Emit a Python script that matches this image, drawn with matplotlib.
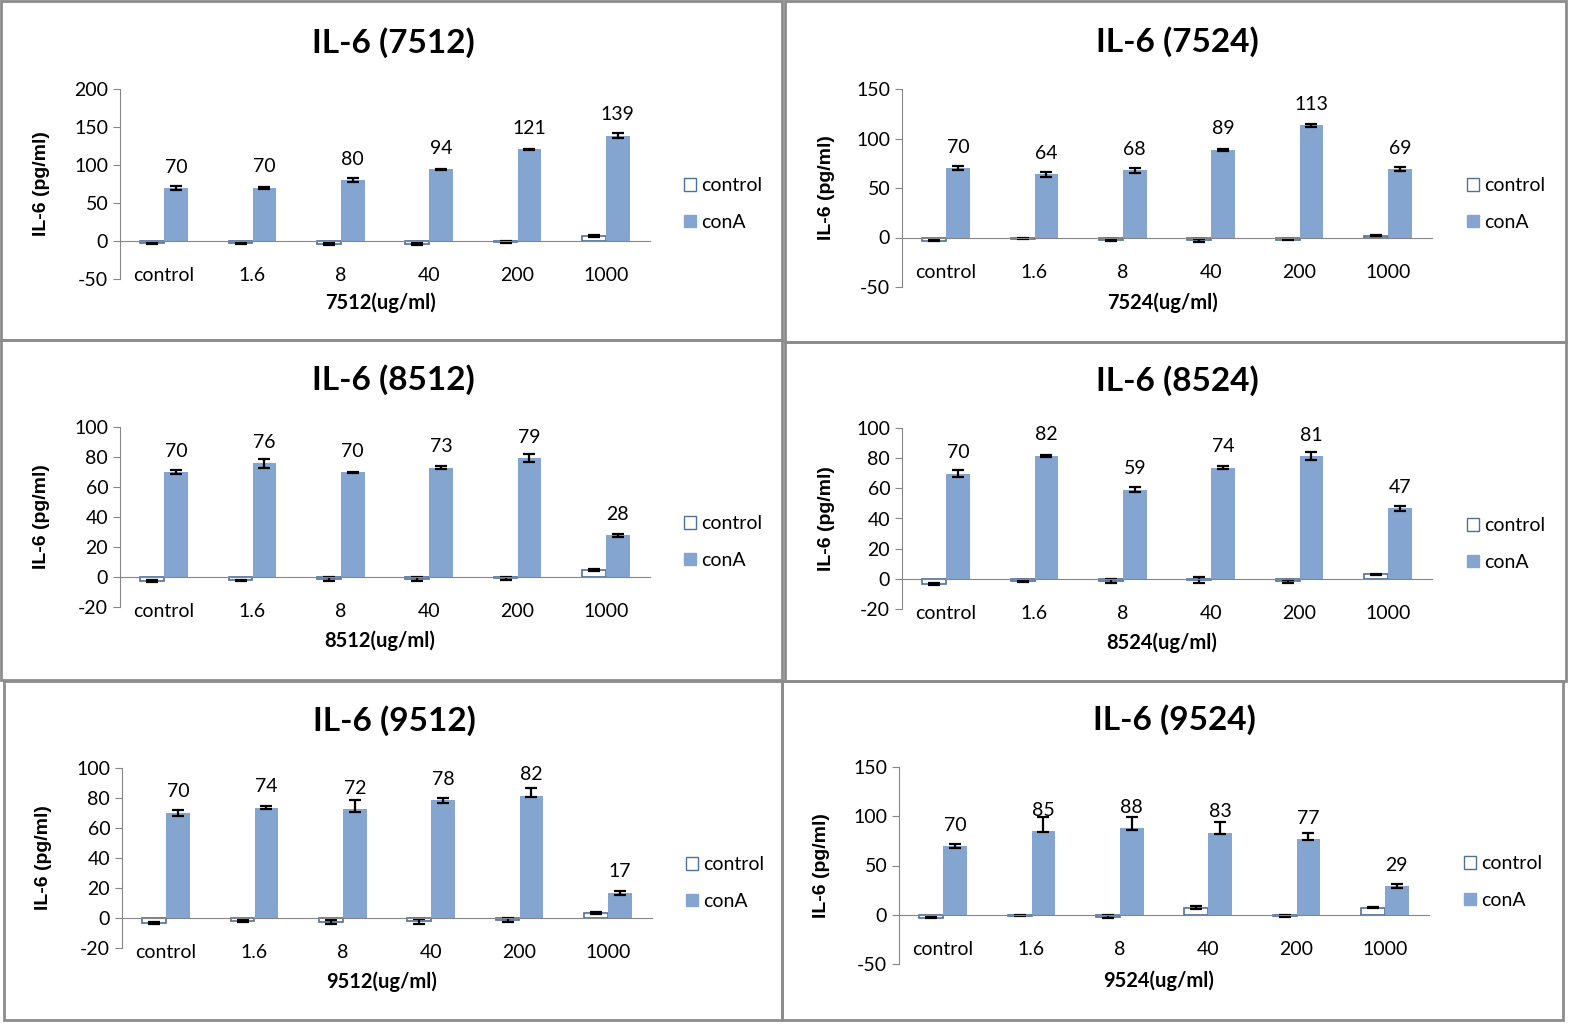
import matplotlib
matplotlib.use('Agg')
import matplotlib.pyplot as plt
from matplotlib.patches import Patch, Rectangle

plt.rcParams['axes.unicode_minus'] = False

W, H = 1573, 1026

categories = ['control', '1.6', '8', '40', '200', '1000']
samples = ['7512', '7524', '8512', '8524', '9512', '9524']

# conA means, error up / down, control means, control error
conA_7512 = [69.6, 70.2, 80.0, 94.3, 120.6, 138.7]
conA_up_7512 = [2.6, 1.3, 2.6, 1.0, 1.0, 3.0]
conA_dn_7512 = [2.6, 1.3, 2.6, 1.0, 1.0, 3.0]
ctrl_7512 = [-3.0, -3.0, -3.5, -4.3, -1.7, 6.5]
ctrl_err_7512 = [0.5, 0.3, 1.5, 1.5, 1.5, 1.0]

conA_7524 = [69.8, 64.0, 68.0, 88.8, 113.3, 68.8]
conA_up_7524 = [2.0, 2.5, 2.5, 1.0, 1.5, 2.0]
conA_dn_7524 = [2.0, 2.5, 2.5, 1.0, 1.5, 2.0]
ctrl_7524 = [-3.2, -1.5, -2.5, -3.0, -2.5, 2.0]
ctrl_err_7524 = [0.5, 0.5, 1.0, 1.5, 0.5, 0.5]

conA_8512 = [70.0, 76.0, 69.8, 72.8, 79.2, 27.8]
conA_up_8512 = [1.5, 3.0, 0.5, 1.0, 2.5, 1.2]
conA_dn_8512 = [1.5, 3.0, 0.5, 1.0, 2.5, 1.2]
ctrl_8512 = [-2.8, -2.2, -1.4, -1.4, -0.8, 4.6]
ctrl_err_8512 = [0.5, 0.5, 1.5, 1.5, 1.0, 0.5]

conA_8524 = [69.8, 81.6, 59.2, 73.6, 81.4, 46.8]
conA_up_8524 = [2.5, 0.5, 1.5, 1.0, 2.5, 1.5]
conA_dn_8524 = [2.5, 0.5, 1.5, 1.0, 2.5, 1.5]
ctrl_8524 = [-3.5, -1.5, -1.5, -1.0, -1.5, 3.0]
ctrl_err_8524 = [0.5, 0.5, 1.5, 2.0, 1.0, 0.5]

conA_9512 = [70.2, 73.6, 72.4, 78.4, 81.6, 16.9]
conA_up_9512 = [2.0, 0.8, 6.3, 1.5, 4.8, 1.3]
conA_dn_9512 = [2.0, 0.8, 1.4, 1.5, 0.7, 1.3]
ctrl_9512 = [-3.3, -2.0, -2.7, -2.2, -1.1, 3.3]
ctrl_err_9512 = [0.5, 0.5, 1.5, 1.6, 1.4, 0.4]

conA_9524 = [69.6, 84.6, 87.6, 83.4, 76.8, 29.2]
conA_up_9524 = [2.0, 14.4, 11.4, 10.7, 5.7, 1.8]
conA_dn_9524 = [2.0, 0.4, 1.4, 1.4, 0.7, 1.8]
ctrl_9524 = [-3.2, -1.2, -1.8, 7.0, -1.2, 7.0]
ctrl_err_9524 = [0.5, 0.5, 1.7, 1.5, 1.0, 0.5]

conA_all = [conA_7512, conA_7524, conA_8512, conA_8524, conA_9512, conA_9524]
conA_up_all = [conA_up_7512, conA_up_7524, conA_up_8512, conA_up_8524, conA_up_9512, conA_up_9524]
conA_dn_all = [conA_dn_7512, conA_dn_7524, conA_dn_8512, conA_dn_8524, conA_dn_9512, conA_dn_9524]
ctrl_all = [ctrl_7512, ctrl_7524, ctrl_8512, ctrl_8524, ctrl_9512, ctrl_9524]
ctrl_err_all = [ctrl_err_7512, ctrl_err_7524, ctrl_err_8512, ctrl_err_8524, ctrl_err_9512, ctrl_err_9524]

y_ranges = [(-50, 200, 50), (-50, 150, 50), (-20, 100, 20), (-20, 100, 20), (-20, 100, 20), (-50, 150, 50)]

# layout in pixels: frame box, axes box (left, top, right, bottom), title y, xlabel y, ylabel x, legend x/y
frames = [(1, 1, 782, 340), (785, 1, 1566, 342), (1, 340, 782, 680),
          (785, 342, 1566, 681), (4, 681, 782, 1020), (782, 681, 1563, 1020)]
axboxes = [(120, 89, 650, 279), (902, 89, 1432, 287), (120, 427, 650, 607),
           (902, 428, 1432, 609), (122, 768, 652, 948), (899, 767, 1429, 964)]
titles_y = [43, 42, 380, 381, 721, 720]
xlab_y = [303, 303, 641, 643, 982, 981]
ylab_x = [42, 826, 42, 826, 43, 822]
legend_xy = [(684, 204), (1467, 204), (684, 542), (1467, 544), (686, 883), (1464, 882)]

BLUE = '#84A5D0'
EDGE = '#4F7099'
AXC = '#868686'
FONT = ['Lato', 'DejaVu Sans']
FS = 14

fig = plt.figure(figsize=(W / 100, H / 100), dpi=100)

for i, name in enumerate(samples):
    fl, ft, fr, fb = frames[i]
    fig.patches.append(Rectangle((fl / W, 1 - fb / H), (fr - fl) / W, (fb - ft) / H,
                                 transform=fig.transFigure, fill=False,
                                 edgecolor='#8C8C8C', linewidth=2))
    l, t, r, b = axboxes[i]
    ax = fig.add_axes([l / W, 1 - b / H, (r - l) / W, (b - t) / H])
    x = list(range(len(categories)))
    bw = 0.27
    xc = [v - bw / 2 for v in x]
    xa = [v + bw / 2 for v in x]
    ax.bar(xc, ctrl_all[i], bw, color='white', edgecolor=EDGE, linewidth=1.2,
           yerr=ctrl_err_all[i], capsize=4, error_kw=dict(elinewidth=1.6, capthick=1.6, ecolor='black'))
    ax.bar(xa, conA_all[i], bw, color=BLUE,
           yerr=[conA_dn_all[i], conA_up_all[i]], capsize=4,
           error_kw=dict(elinewidth=1.6, capthick=1.6, ecolor='black'))
    for xx, v in zip(xa, conA_all[i]):
        ax.annotate(str(int(round(v))), (xx, v), xytext=(0, 15), textcoords='offset points',
                    ha='center', va='center', fontsize=FS, family=FONT)
    lo, hi, step = y_ranges[i]
    ax.set_ylim(lo, hi)
    ax.set_yticks(list(range(lo, hi + 1, step)))
    ax.set_xlim(-0.5, len(categories) - 0.5)
    ax.set_xticks(x)
    ax.set_xticklabels(categories)
    for s in ['top', 'right']:
        ax.spines[s].set_visible(False)
    ax.spines['bottom'].set_position(('data', 0))
    ax.spines['bottom'].set_color(AXC)
    ax.spines['left'].set_color(AXC)
    ax.tick_params(axis='x', length=0, pad=19, labelsize=FS)
    ax.tick_params(axis='y', length=5, color=AXC, labelsize=FS)
    for lab in ax.get_xticklabels() + ax.get_yticklabels():
        lab.set_family(FONT)
    cx = (fl + fr) / 2
    fig.text(cx / W + 0.001, 1 - titles_y[i] / H, 'IL-6 (' + name + ')', ha='center', va='center',
             fontsize=24, fontweight='bold', family=FONT)
    fig.text(((l + r) / 2 - 5) / W, 1 - xlab_y[i] / H, name + '(ug/ml)', ha='center', va='center',
             fontsize=14.5, fontweight='bold', family=FONT)
    fig.text(ylab_x[i] / W, 1 - ((t + b) / 2) / H, 'IL-6 (pg/ml)', ha='center', va='center',
             rotation=90, fontsize=14, fontweight='bold', family='Liberation Sans')
    handles = [Patch(facecolor='white', edgecolor=EDGE, label='control'),
               Patch(facecolor=BLUE, edgecolor=BLUE, label='conA')]
    lx, ly = legend_xy[i]
    fig.legend(handles=handles, loc='center left', bbox_to_anchor=(lx / W, 1 - ly / H),
               frameon=False, handlelength=0.6, handleheight=0.6, handletextpad=0.3,
               labelspacing=1.0, borderpad=0, borderaxespad=0,
               prop={'family': FONT, 'size': FS})

fig.savefig('out.png', dpi=100)
